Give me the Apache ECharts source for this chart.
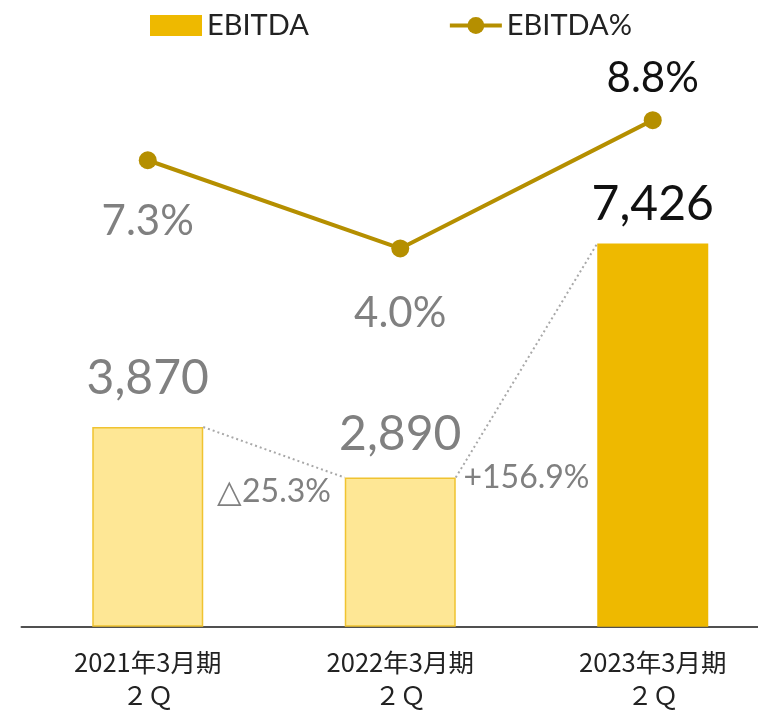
<!DOCTYPE html>
<html>
<head>
<meta charset="utf-8">
<script src="https://cdn.jsdelivr.net/npm/echarts@6/dist/echarts.min.js"></script>
<style>
  html, body { margin: 0; padding: 0; background: #fff; }
  #chart { width: 758px; height: 711px; }
</style>
</head>
<body>
<div id="chart"></div>
<script>
const categories = ['2021年3月期\n２Ｑ', '2022年3月期\n２Ｑ', '2023年3月期\n２Ｑ'];
const ebitda = [3870, 2890, 7426];
const ebitdaPct = [7.3, 4.0, 8.8];
const changeLabels = ['△25.3%', '+156.9%'];

const BAR_W = 111;
const GRAY = '#808080';
const GOLD = '#B58F00';

const chart = echarts.init(document.getElementById('chart'));

// dotted connectors between neighbouring bar tops
const changeData = changeLabels.map((t, i) => [i, ebitda[i], ebitda[i + 1], t]);
const changeLabelDy = [14, 0];

const option = {
    animation: false,
    legend: {
        data: [
            {name: 'EBITDA', icon: 'rect'},
            {name: 'EBITDA%', lineStyle: {width: 4}}
        ],
        left: 145,
        top: 6,
        itemWidth: 52,
        itemHeight: 21,
        itemGap: 139,
        textStyle: {fontFamily: 'Lato', fontSize: 29, color: '#222'}
    },
    grid: {left: 21.5, width: 757.5, top: 87, bottom: 84.3, outerBoundsMode: 'none'},
    xAxis: {
        type: 'category',
        data: categories,
        axisTick: {show: false},
        axisLine: {lineStyle: {color: '#505050', width: 2}},
        axisLabel: {
            margin: 19,
            fontFamily: 'Noto Sans CJK JP',
            fontSize: 25.5,
            lineHeight: 33,
            color: '#222'
        }
    },
    yAxis: [
        {type: 'value', min: 0, max: 10460, show: false, splitLine: {show: false}},
        {type: 'value', min: -10.15, max: 10.04, show: false, splitLine: {show: false}}
    ],
    series: [
        {
            name: 'EBITDA',
            type: 'bar',
            barWidth: BAR_W,
            itemStyle: {color: '#EEB900'},
            label: {
                show: true,
                position: 'top',
                fontFamily: 'Lato',
                fontSize: 48,
                lineHeight: 48,
                formatter: p => echarts.format.addCommas(p.value)
            },
            data: ebitda.map((v, i) => {
                const last = i === ebitda.length - 1;
                return {
                    value: v,
                    itemStyle: last ? {color: '#EEB900'} :
                        {color: '#FEE795', borderColor: '#F0C331', borderWidth: 1.5},
                    label: {color: last ? '#111' : GRAY, distance: [25, 19, 15][i]}
                };
            })
        },
        {
            name: 'EBITDA%',
            type: 'line',
            yAxisIndex: 1,
            symbol: 'circle',
            symbolSize: 18,
            color: GOLD,
            lineStyle: {width: 4, color: GOLD},
            itemStyle: {color: GOLD},
            label: {
                show: true,
                fontFamily: 'Lato',
                fontSize: 42,
                lineHeight: 42,
                formatter: p => p.value.toFixed(1) + '%'
            },
            data: ebitdaPct.map((v, i) => {
                const last = i === ebitdaPct.length - 1;
                return {
                    value: v,
                    label: {
                        position: last ? 'top' : 'bottom',
                        distance: [31, 35, 12][i],
                        color: last ? '#111' : GRAY
                    }
                };
            })
        },
        {
            name: 'change',
            type: 'custom',
            silent: true,
            z: 5,
            data: changeData,
            renderItem: (params, api) => {
                const i = api.value(0);
                const a = api.coord([i, api.value(1)]);
                const b = api.coord([i + 1, api.value(2)]);
                const x1 = a[0] + BAR_W / 2, x2 = b[0] - BAR_W / 2;
                const low = Math.max(a[1], b[1]);
                return {
                    type: 'group',
                    children: [
                        {
                            type: 'line',
                            shape: {x1: x1, y1: a[1], x2: x2, y2: b[1]},
                            style: {stroke: '#A8A8A8', lineWidth: 2, lineDash: [2, 3]}
                        },
                        {
                            type: 'text',
                            style: {
                                text: changeLabels[params.dataIndex],
                                x: (x1 + x2) / 2,
                                y: low + changeLabelDy[params.dataIndex],
                                align: 'center',
                                verticalAlign: 'middle',
                                fontFamily: 'Lato',
                                fontSize: 32,
                                fill: GRAY
                            }
                        }
                    ]
                };
            }
        }
    ]
};

chart.setOption(option);
</script>
</body>
</html>
